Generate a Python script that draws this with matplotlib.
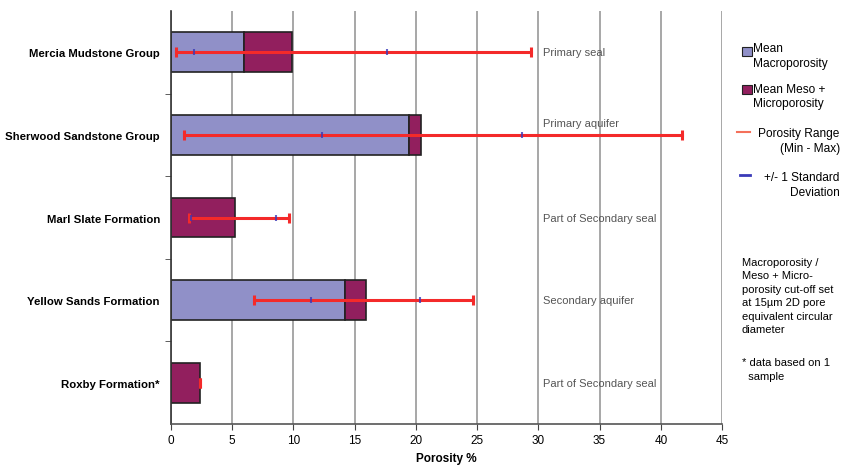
import matplotlib.pyplot as plt
import matplotlib.patches as patches
from matplotlib.lines import Line2D

plt.rcParams['font.family'] = ['Liberation Sans', 'DejaVu Sans']

units = ['Mercia Mudstone Group', 'Sherwood Sandstone Group', 'Marl Slate Formation',
         'Yellow Sands Formation', 'Roxby Formation*']
macro = [6.0, 19.4, 0.0, 14.2, 0.0]
meso = [3.9, 1.0, 5.2, 1.7, 2.4]
por_min = [0.4, 1.1, 1.5, 6.8, 2.4]
por_max = [29.4, 41.7, 9.6, 24.7, 2.4]
sd_low = [1.9, 12.3, 1.6, 11.4, None]
sd_high = [17.6, 28.7, 8.6, 20.3, None]
notes = ['Primary seal', 'Primary aquifer', 'Part of Secondary seal',
         'Secondary aquifer', 'Part of Secondary seal']

c_macro = '#9090c8'
c_meso = '#921f5e'
c_red = '#f42a2a'
c_blue = '#3a3ab8'

fig = plt.figure(figsize=(8.44, 4.77), dpi=100)
ax = fig.add_axes([0.2026, 0.109, 0.6529, 0.8658])

y = list(range(len(units)))
ax.barh(y, macro, height=0.48, color=c_macro, edgecolor='#222222', linewidth=1.2, zorder=2)
ax.barh(y, meso, left=macro, height=0.48, color=c_meso, edgecolor='#222222', linewidth=1.2, zorder=2)

for i in y:
    lo, hi = por_min[i], por_max[i]
    if hi > lo:
        ax.plot([lo, hi], [i, i], color=c_red, lw=2.2, zorder=3)
    ax.plot([lo, hi], [i, i], ls='none', marker='|', ms=7, mew=2.2, color=c_red, zorder=3)
    if sd_low[i] is not None:
        ax.plot([sd_low[i], sd_high[i]], [i, i], ls='none', marker='|', ms=4, mew=1.5,
                color=c_blue, alpha=0.8, zorder=4)
    dy = -0.15 if i == 1 else 0
    ax.text(30.4, i + dy, notes[i], fontsize=8, color='#555555', va='center', ha='left')

ax.set_xlim(0, 45)
ax.set_ylim(4.5, -0.5)
ax.set_xticks(range(0, 46, 5))
ax.set_yticks(y)
ax.set_yticklabels(units, fontweight='bold', fontsize=8.2)
ax.set_yticks([0.5, 1.5, 2.5, 3.5], minor=True)
ax.tick_params(axis='y', which='major', length=0, pad=8)
ax.tick_params(axis='y', which='minor', length=4, color='#444444')
ax.tick_params(axis='x', length=4, labelsize=8.5, color='#444444')
ax.xaxis.grid(True, color='#a0a0a0', lw=1.3, zorder=0)
ax.set_axisbelow(True)
for s in ['top', 'right']:
    ax.spines[s].set_visible(False)
ax.spines['left'].set_color('#333333')
ax.spines['bottom'].set_color('#555555')
ax.spines['left'].set_linewidth(1.2)
ax.spines['bottom'].set_linewidth(1.2)
ax.set_xlabel('Porosity %', fontweight='bold', fontsize=8.5)

# legend panel on the right
fs = 8.6
fig.patches.append(patches.Rectangle((0.879, 0.8805), 0.0118, 0.019, transform=fig.transFigure,
                                     facecolor=c_macro, edgecolor='#222222', lw=0.8))
fig.text(0.892, 0.8816, 'Mean\nMacroporosity', fontsize=fs, va='center', ha='left', linespacing=1.27)
fig.patches.append(patches.Rectangle((0.879, 0.8008), 0.0118, 0.019, transform=fig.transFigure,
                                     facecolor=c_meso, edgecolor='#222222', lw=0.8))
fig.text(0.892, 0.7966, 'Mean Meso +\nMicroporosity', fontsize=fs, va='center', ha='left', linespacing=1.27)
fig.lines.append(Line2D([0.873, 0.889], [0.7212, 0.7212], transform=fig.transFigure,
                        color='#f4705a', lw=1.5))
fig.text(0.995, 0.7034, 'Porosity Range\n(Min - Max)', fontsize=fs, va='center', ha='right', linespacing=1.27)
fig.lines.append(Line2D([0.877, 0.889], [0.631, 0.631], transform=fig.transFigure,
                        color=c_blue, lw=2))
fig.text(0.995, 0.612, '+/- 1 Standard\nDeviation', fontsize=fs, va='center', ha='right', linespacing=1.35)
fig.text(0.879, 0.3784, 'Macroporosity /\nMeso + Micro-\nporosity cut-off set\nat 15µm 2D pore\n'
         'equivalent circular\ndiameter', fontsize=8, va='center', ha='left', linespacing=1.42)
fig.text(0.879, 0.2243, '* data based on 1\n  sample', fontsize=8, va='center', ha='left', linespacing=1.42)

fig.savefig('out.png', dpi=100)
